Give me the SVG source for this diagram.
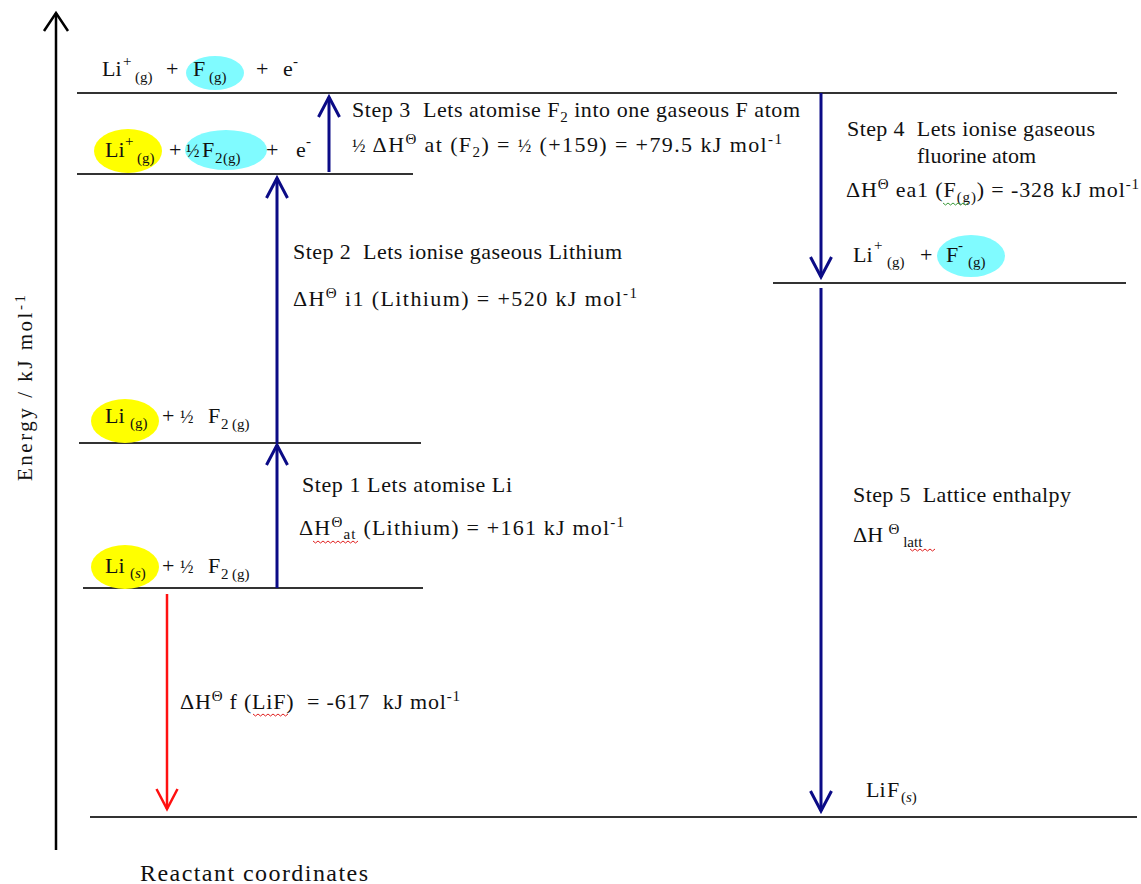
<svg xmlns="http://www.w3.org/2000/svg" width="1141" height="884" viewBox="0 0 1141 884" font-family="'Liberation Serif', 'Times New Roman', 'DejaVu Serif', serif">
<style>
text{font-family:'Liberation Serif','Times New Roman','DejaVu Serif',serif;font-size:22px;fill:#111;white-space:pre}
.s{font-size:15px}
.sup{font-size:15px}
.h{font-size:18px}
.lvl{stroke:#333;stroke-width:1.8;fill:none}
.blue{stroke:#0b0b86;stroke-width:3;fill:none}
.red{stroke:#ff1010;stroke-width:2.5;fill:none}
.yel{fill:#ffff00}
.cy{fill:#80fbff}
.sq{stroke:#e02020;stroke-width:1;fill:none}
.sqg{stroke:#3a9a3a;stroke-width:1;fill:none}
</style>
<defs>
<marker id="hb" viewBox="0 0 24 24" refX="21" refY="12" markerWidth="24" markerHeight="24" markerUnits="userSpaceOnUse" orient="auto">
<path d="M1,1.5 L21,12 L1,22.5" stroke="#0b0b86" stroke-width="3" fill="none"/>
</marker>
<marker id="hr" viewBox="0 0 24 24" refX="21" refY="12" markerWidth="24" markerHeight="24" markerUnits="userSpaceOnUse" orient="auto">
<path d="M1,1.5 L21,12 L1,22.5" stroke="#ff1010" stroke-width="2.5" fill="none"/>
</marker>
</defs>
<rect width="1141" height="884" fill="#fff"/>

<g id="axis">
<line x1="56" y1="13" x2="56" y2="850" stroke="#000" stroke-width="2.5"/>
<polyline points="44,31 56,13 68,31" stroke="#000" stroke-width="2.5" fill="none"/>
<text transform="translate(32,388) rotate(-90)" text-anchor="middle" textLength="186" style="font-size:21px">Energy / kJ mol<tspan class="sup" dy="-7">-1</tspan></text>
<text x="140" y="881" textLength="228" style="font-size:24px">Reactant coordinates</text>
</g>

<g id="level-top">
<line class="lvl" x1="77" y1="93" x2="1117" y2="93"/>
<ellipse class="cy" cx="215" cy="73" rx="29" ry="17"/>
<text x="102" y="76">Li</text><text class="sup" x="123" y="66">+</text><text class="s" x="135" y="82">(g)</text>
<text x="166" y="76">+</text><text x="193" y="76">F</text><text class="s" x="209" y="82">(g)</text>
<text x="256" y="76">+</text><text x="283" y="76">e</text><text class="sup" x="293" y="66">-</text>
</g>

<g id="level-2">
<line class="lvl" x1="77" y1="174" x2="413" y2="174"/>
<ellipse class="yel" cx="128" cy="151" rx="34" ry="22"/>
<ellipse class="cy" cx="226" cy="150" rx="41" ry="20"/>
<text x="105" y="157">Li</text><text class="sup" x="125" y="146">+</text><text class="s" x="137" y="163">(g)</text>
<text x="169" y="157">+</text><text class="h" x="186" y="157">½</text><text x="202" y="157">F</text><text class="s" x="215" y="163">2</text><text class="s" x="223" y="163">(g)</text>
<text x="266" y="157">+</text><text x="296" y="157">e</text><text class="sup" x="306" y="146">-</text>
</g>

<g id="level-3">
<line class="lvl" x1="79" y1="443" x2="421" y2="443"/>
<ellipse class="yel" cx="125" cy="421" rx="34" ry="22"/>
<text x="105" y="423">Li</text><text class="s" x="130" y="428">(g)</text>
<text x="162" y="423">+</text><text class="h" x="180" y="423">½</text><text x="208" y="423">F</text><text class="s" x="221" y="429">2</text><text class="s" x="232" y="429">(g)</text>
</g>

<g id="level-4">
<line class="lvl" x1="83" y1="588" x2="423" y2="588"/>
<ellipse class="yel" cx="125" cy="567" rx="34" ry="22"/>
<text x="105" y="573">Li</text><text class="s" x="130" y="578">(<tspan font-style="italic">s</tspan>)</text>
<text x="162" y="573">+</text><text class="h" x="180" y="573">½</text><text x="208" y="573">F</text><text class="s" x="221" y="579">2</text><text class="s" x="232" y="579">(g)</text>
</g>

<g id="level-right">
<line class="lvl" x1="773" y1="283" x2="1126" y2="283"/>
<ellipse class="cy" cx="971" cy="256" rx="34" ry="21"/>
<text x="853" y="262">Li</text><text class="sup" x="874" y="250">+</text><text class="s" x="887" y="267">(g)</text>
<text x="920" y="262">+</text><text x="946" y="262">F</text><text class="sup" x="958" y="250">-</text><text class="s" x="968" y="267">(g)</text>
</g>

<g id="level-bottom">
<line class="lvl" x1="90" y1="817" x2="1137" y2="817"/>
<text x="866" y="797">Li</text><text x="887" y="797">F</text><text class="s" x="901" y="802">(<tspan font-style="italic">s</tspan>)</text>
</g>

<g id="connectors">
<line class="blue" x1="277" y1="588" x2="277" y2="445" marker-end="url(#hb)"/>
<line class="blue" x1="277" y1="443" x2="277" y2="178" marker-end="url(#hb)"/>
<line class="blue" x1="329" y1="172" x2="329" y2="97" marker-end="url(#hb)"/>
<line class="blue" x1="821" y1="93" x2="821" y2="277" marker-end="url(#hb)"/>
<line class="blue" x1="821" y1="288" x2="821" y2="811" marker-end="url(#hb)"/>
<line class="red" x1="167" y1="594" x2="167" y2="809" marker-end="url(#hr)"/>
</g>

<g id="step1">
<text x="302" y="492" textLength="210">Step 1 Lets atomise Li</text>
<text x="299" y="535" textLength="325">ΔH<tspan class="sup" dy="-8">Θ</tspan><tspan class="s" dy="12">at</tspan><tspan dy="-4"> (Lithium) = +161 kJ mol</tspan><tspan class="sup" dy="-8">-1</tspan></text>
<path class="sq" d="M313,541 l2.5,2 l2.5,-2 l2.5,2 l2.5,-2 l2.5,2 l2.5,-2 l2.5,2 l2.5,-2 l2.5,2 l2.5,-2 l2.5,2 l2.5,-2 l2.5,2 l2.5,-2 l2.5,2 l2.5,-2 l2.5,2 l2.5,-2"/>
</g>

<g id="step2">
<text x="293" y="259" textLength="329">Step 2  Lets ionise gaseous Lithium</text>
<text x="293" y="306" textLength="344">ΔH<tspan class="sup" dy="-8">Θ</tspan><tspan dy="8"> i1 (Lithium) = +520 kJ mol</tspan><tspan class="sup" dy="-8">-1</tspan></text>
</g>

<g id="step3">
<text x="352" y="117" textLength="448">Step 3  Lets atomise F<tspan class="s" dy="5">2</tspan><tspan dy="-5"> into one gaseous F atom</tspan></text>
<text x="352" y="152" textLength="430"><tspan class="h">½</tspan> ΔH<tspan class="sup" dy="-8">Θ</tspan><tspan dy="8"> at (F</tspan><tspan class="s" dy="5">2</tspan><tspan dy="-5">) = </tspan><tspan class="h">½</tspan> (+159) = +79.5 kJ mol<tspan class="sup" dy="-8">-1</tspan></text>
</g>

<g id="step4">
<text x="847" y="136" textLength="248">Step 4  Lets ionise gaseous</text>
<text x="917" y="163" textLength="119">fluorine atom</text>
<text x="846" y="197" textLength="293">ΔH<tspan class="sup" dy="-8">Θ</tspan><tspan dy="8"> ea1 (F</tspan><tspan class="s" dy="5">(g)</tspan><tspan dy="-5">) = -328 kJ mol</tspan><tspan class="sup" dy="-8">-1</tspan></text>
<path class="sqg" d="M943,203 l2.5,2 l2.5,-2 l2.5,2 l2.5,-2 l2.5,2 l2.5,-2 l2.5,2 l2.5,-2 l2.5,2 l2.5,-2"/>
</g>

<g id="step5">
<text x="853" y="502" textLength="218">Step 5  Lattice enthalpy</text>
<text x="853" y="542">ΔH <tspan class="sup" dy="-8">Θ</tspan><tspan class="s" dy="13"> latt</tspan></text>
<path class="sq" d="M910,549 l2.5,2 l2.5,-2 l2.5,2 l2.5,-2 l2.5,2 l2.5,-2 l2.5,2 l2.5,-2 l2.5,2 l2.5,-2"/>
</g>

<g id="formation">
<text x="180" y="709" textLength="280">ΔH<tspan class="sup" dy="-8">Θ</tspan><tspan dy="8"> f (LiF)  = -617  kJ mol</tspan><tspan class="sup" dy="-8">-1</tspan></text>
<path class="sq" d="M253,714 l2.5,2 l2.5,-2 l2.5,2 l2.5,-2 l2.5,2 l2.5,-2 l2.5,2 l2.5,-2 l2.5,2 l2.5,-2 l2.5,2 l2.5,-2 l2.5,2 l2.5,-2"/>
</g>
</svg>
